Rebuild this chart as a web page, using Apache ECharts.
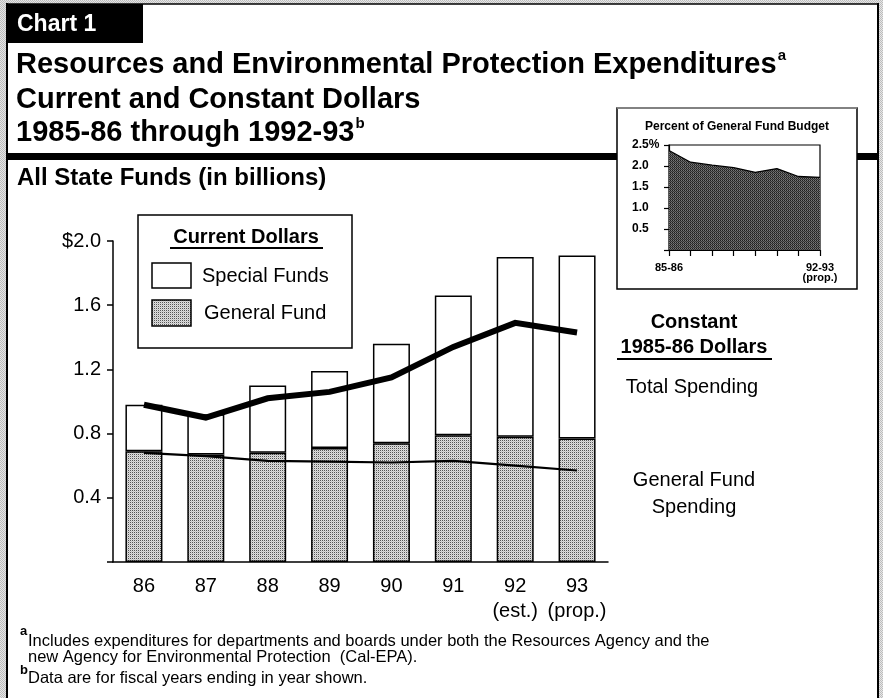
<!DOCTYPE html>
<html>
<head>
<meta charset="utf-8">
<script src="https://cdn.jsdelivr.net/npm/echarts@6/dist/echarts.min.js"></script>
<style>
html,body{margin:0;padding:0;background:#fff;}
#chart{width:883px;height:698px;}
</style>
</head>
<body>
<div id="chart"></div>
<script>
// ---- data ----
const years = ['86','87','88','89','90','91','92','93'];
const yearNotes = ['','','','','','','(est.)','(prop.)'];
const generalFund = [0.69, 0.67, 0.68, 0.71, 0.74, 0.79, 0.78, 0.77];
const specialFunds = [0.29, 0.25, 0.42, 0.48, 0.62, 0.87, 1.12, 1.14];
const constantTotal = [0.98, 0.90, 1.02, 1.06, 1.15, 1.34, 1.49, 1.43];
const constantGeneral = [0.68, 0.66, 0.63, 0.625, 0.62, 0.63, 0.60, 0.57];
const yTickLabels = ['', '0.4', '0.8', '1.2', '1.6', '$2.0'];

const insetYears = ['85-86','86-87','87-88','88-89','89-90','90-91','91-92','92-93'];
const insetShownLabels = ['85-86','','','','','','','92-93\n(prop.)'];
const insetPercent = [2.37, 2.09, 2.02, 1.96, 1.85, 1.94, 1.75, 1.73];
const insetTickLabels = ['', '0.5', '1.0', '1.5', '2.0', '2.5%'];

// ---- stipple patterns ----
function makePattern(cols) {
  const c = document.createElement('canvas');
  c.width = 2; c.height = 2;
  const ctx = c.getContext('2d');
  ctx.fillStyle = cols[0]; ctx.fillRect(0,0,1,1);
  ctx.fillStyle = cols[1]; ctx.fillRect(1,0,1,1);
  ctx.fillStyle = cols[2]; ctx.fillRect(0,1,1,1);
  ctx.fillStyle = cols[3]; ctx.fillRect(1,1,1,1);
  return c;
}
const lightCanvas = makePattern(['#555555','#dedede','#dedede','#c4c4c4']);
const darkCanvas = makePattern(['#1e1e1e','#7a7a7a','#5e5e5e','#333333']);
const greyCanvas = makePattern(['#bdbdbd','#e6e6e6','#e6e6e6','#bdbdbd']);
const lightPat = {type:'pattern', image: lightCanvas, repeat: 'repeat'};
const darkPat = {type:'pattern', image: darkCanvas, repeat: 'repeat'};
const greyPat = {type:'pattern', image: greyCanvas, repeat: 'repeat'};

const F = 'Liberation Sans, Arial, Helvetica, sans-serif';

const chart = echarts.init(document.getElementById('chart'), null, {renderer: 'canvas'});

function txt(text, x, y, size, weight, opts) {
  opts = opts || {};
  return {
    type: 'text', z: 20,
    style: Object.assign({
      text: text, x: x, y: y,
      fill: opts.fill || '#000',
      font: (weight || 'normal') + ' ' + size + 'px ' + F,
      textAlign: opts.align || 'left',
      textVerticalAlign: 'middle'
    }, opts.extra || {})
  };
}
function hline(x1, x2, y, w, color) {
  return {type:'line', z: 19, shape:{x1:x1, y1:y, x2:x2, y2:y}, style:{stroke: color || '#000', lineWidth: w}};
}
function vline(x, y1, y2, w, color) {
  return {type:'line', z: 19, shape:{x1:x, y1:y1, x2:x, y2:y2}, style:{stroke: color || '#000', lineWidth: w}};
}

const graphics = [
  // scanned grey page edge
  {type:'rect', z: 1, shape:{x:0, y:0, width:883, height:4}, style:{fill: greyPat}},
  {type:'rect', z: 1, shape:{x:0, y:0, width:6, height:698}, style:{fill: greyPat}},
  {type:'rect', z: 1, shape:{x:879, y:0, width:4, height:698}, style:{fill: greyPat}},
  vline(7, 3, 698, 2),
  vline(878, 3, 698, 2),
  hline(7, 878, 4, 1.5),
  // Chart 1 tab
  {type:'rect', z: 15, shape:{x:7, y:4, width:136, height:39}, style:{fill:'#000'}},
  txt('Chart 1', 17, 25, 23, 'bold', {fill:'#fff'}),
  // title
  {type:'text', z:20, style:{
    text: '{t|Resources and Environmental Protection Expenditures}{s|a}',
    x: 16, y: 65, textVerticalAlign: 'middle',
    rich: {t:{font:'bold 29px ' + F, fill:'#000', lineHeight: 34}, s:{font:'bold 15px ' + F, fill:'#000', verticalAlign:'top', lineHeight: 34, padding:[0,0,0,1]}}
  }},
  txt('Current and Constant Dollars', 16, 100, 29, 'bold'),
  {type:'text', z:20, style:{
    text: '{t|1985-86 through 1992-93}{s|b}',
    x: 16, y: 133, textVerticalAlign: 'middle',
    rich: {t:{font:'bold 29px ' + F, fill:'#000', lineHeight: 34}, s:{font:'bold 15px ' + F, fill:'#000', verticalAlign:'top', lineHeight: 34, padding:[0,0,0,1]}}
  }},
  // separator
  {type:'rect', z: 15, shape:{x:7, y:153, width:871, height:7}, style:{fill:'#000'}},
  txt('All State Funds (in billions)', 17, 178, 24, 'bold'),
  // legend box
  {type:'rect', z: 16, shape:{x:138, y:215, width:214, height:133}, style:{fill:'#fff', stroke:'#000', lineWidth:1.5}},
  txt('Current Dollars', 246, 237, 20, 'bold', {align:'center'}),
  hline(170, 323, 248, 2),
  {type:'rect', z: 18, shape:{x:152, y:263, width:39, height:25}, style:{fill:'#fff', stroke:'#000', lineWidth:1.5}},
  txt('Special Funds', 202, 276, 20, 'normal'),
  {type:'rect', z: 18, shape:{x:152, y:300, width:39, height:26}, style:{fill: lightPat, stroke:'#000', lineWidth:1.5}},
  txt('General Fund', 204, 313, 20, 'normal'),
  // constant dollars annotations
  txt('Constant', 694, 322, 20, 'bold', {align:'center'}),
  txt('1985-86 Dollars', 694, 347, 20, 'bold', {align:'center'}),
  hline(617, 772, 359, 2),
  txt('Total Spending', 692, 387, 20, 'normal', {align:'center'}),
  txt('General Fund', 694, 480, 20, 'normal', {align:'center'}),
  txt('Spending', 694, 507, 20, 'normal', {align:'center'}),
  // inset box
  {type:'rect', z: 16, shape:{x:617, y:108, width:240, height:181}, style:{fill:'#fff', stroke:'#000', lineWidth:1.5}},
  hline(617, 857, 108, 1.5, '#9a9a9a'),
  txt('Percent of General Fund Budget', 737, 127, 12, 'bold', {align:'center'}),
  // footnotes
  txt('a', 20, 631, 13, 'bold'),
  txt('Includes expenditures for departments and boards under both the Resources Agency and the', 28, 641, 16.5, 'normal'),
  txt('new Agency for Environmental Protection  (Cal-EPA).', 28, 657, 16.5, 'normal'),
  txt('b', 20, 670, 13, 'bold'),
  txt('Data are for fiscal years ending in year shown.', 28, 678, 16.5, 'normal')
];

const option = {
  animation: false,
  backgroundColor: '#fff',
  grid: [
    {left: 113, top: 241, width: 495, height: 321, containLabel: false, z: 5},
    {left: 669, top: 145, width: 151, height: 105, show: true, borderColor: '#000', borderWidth: 1.2, backgroundColor: 'transparent', z: 30}
  ],
  xAxis: [
    {
      type: 'category', gridIndex: 0, data: years,
      axisLine: {lineStyle: {color: '#000', width: 1.5}},
      axisTick: {show: false},
      axisLabel: {
        color: '#000', fontFamily: F, fontSize: 20, lineHeight: 25, margin: 12,
        interval: 0,
        formatter: function (v, i) { return yearNotes[i] ? v + '\n' + yearNotes[i] : v; }
      }
    },
    {
      type: 'category', gridIndex: 1, data: insetYears, boundaryGap: false,
      axisLine: {lineStyle: {color: '#000', width: 1.2}},
      axisTick: {show: true, length: 6, interval: 0, lineStyle: {color: '#000', width: 1.2}},
      axisLabel: {
        color: '#000', fontFamily: F, fontSize: 11, fontWeight: 'bold', lineHeight: 10, margin: 13,
        interval: 0, showMinLabel: true, showMaxLabel: true,
        formatter: function (v, i) { return insetShownLabels[i]; }
      },
      z: 31
    }
  ],
  yAxis: [
    {
      type: 'value', gridIndex: 0, min: 0, max: 2.0, interval: 0.4,
      splitLine: {show: false},
      axisLine: {show: true, lineStyle: {color: '#000', width: 1.5}},
      axisTick: {show: true, length: 6, lineStyle: {color: '#000', width: 1.5}},
      axisLabel: {
        color: '#000', fontFamily: F, fontSize: 20, margin: 12,
        formatter: function (v) { return yTickLabels[Math.round(v / 0.4)]; }
      }
    },
    {
      type: 'value', gridIndex: 1, min: 0, max: 2.5, interval: 0.5,
      splitLine: {show: false},
      axisLine: {show: true, lineStyle: {color: '#000', width: 1.2}},
      axisTick: {show: true, length: 5, lineStyle: {color: '#000', width: 1.2}},
      axisLabel: {
        color: '#000', fontFamily: F, fontSize: 12, fontWeight: 'bold', margin: 37, align: 'left',
        formatter: function (v) { return insetTickLabels[Math.round(v / 0.5)]; }
      },
      z: 31
    }
  ],
  series: [
    {
      name: 'General Fund', type: 'bar', stack: 'cur', xAxisIndex: 0, yAxisIndex: 0,
      barWidth: 37, data: generalFund,
      itemStyle: {color: lightPat, borderColor: '#000', borderWidth: 1.5},
      z: 5
    },
    {
      name: 'Special Funds', type: 'bar', stack: 'cur', xAxisIndex: 0, yAxisIndex: 0,
      barWidth: 37, data: specialFunds,
      itemStyle: {color: '#fff', borderColor: '#000', borderWidth: 1.5},
      z: 5
    },
    {
      name: 'Constant Total Spending', type: 'line', xAxisIndex: 0, yAxisIndex: 0,
      data: constantTotal, symbol: 'none',
      lineStyle: {color: '#000', width: 6, join: 'miter'},
      z: 8
    },
    {
      name: 'Constant General Fund Spending', type: 'line', xAxisIndex: 0, yAxisIndex: 0,
      data: constantGeneral, symbol: 'none',
      lineStyle: {color: '#000', width: 2.2},
      z: 8
    },
    {
      name: 'Percent of General Fund Budget', type: 'line', xAxisIndex: 1, yAxisIndex: 1,
      data: insetPercent, symbol: 'none',
      lineStyle: {color: '#000', width: 1.3},
      areaStyle: {color: darkPat, opacity: 1},
      z: 32
    }
  ],
  graphic: graphics
};
chart.setOption(option);
</script>
</body>
</html>
